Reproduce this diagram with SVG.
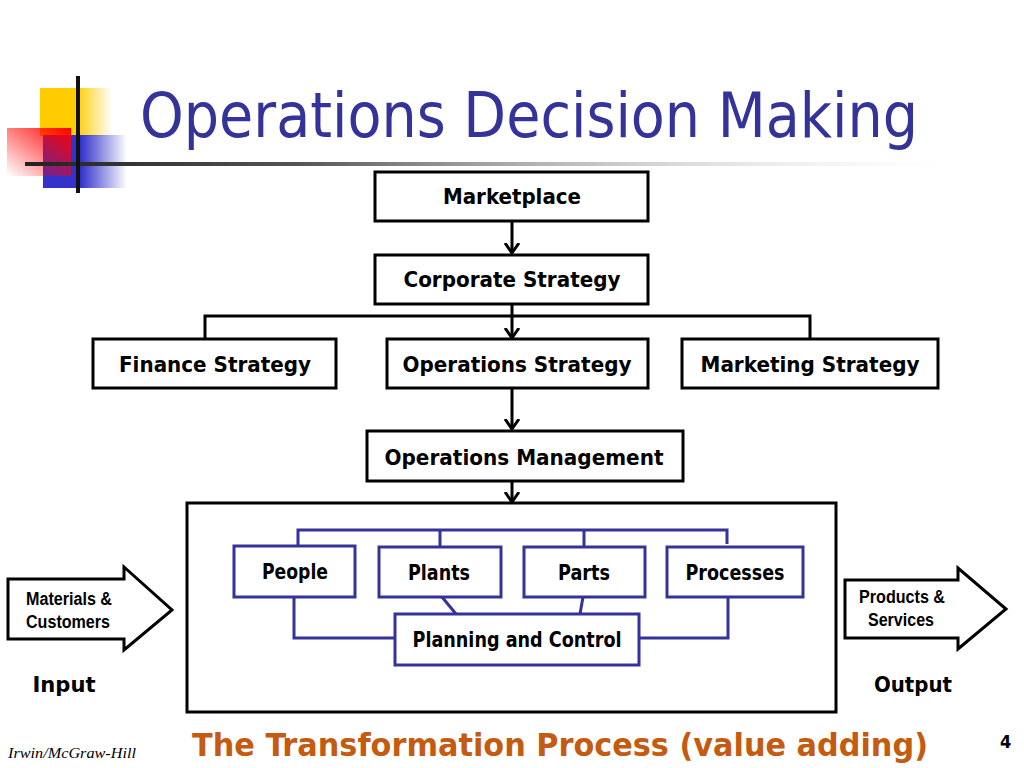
<svg xmlns="http://www.w3.org/2000/svg" width="1024" height="768" viewBox="0 0 1024 768">
<defs>
<linearGradient id="gy" x1="0" y1="0" x2="1" y2="0"><stop offset="0" stop-color="#FFCC00"/><stop offset="0.5" stop-color="#FFCC00"/><stop offset="1" stop-color="#FFCC00" stop-opacity="0"/></linearGradient>
<linearGradient id="gb" x1="0" y1="0" x2="1" y2="0"><stop offset="0" stop-color="#3333CC"/><stop offset="0.45" stop-color="#3333CC"/><stop offset="1" stop-color="#3333CC" stop-opacity="0"/></linearGradient>
<linearGradient id="gr" x1="1" y1="0" x2="0" y2="1"><stop offset="0" stop-color="#FF0000"/><stop offset="1" stop-color="#FF0000" stop-opacity="0"/></linearGradient>
<linearGradient id="gl" x1="0" y1="0" x2="1" y2="0"><stop offset="0" stop-color="#222"/><stop offset="0.3" stop-color="#555"/><stop offset="1" stop-color="#ddd" stop-opacity="0"/></linearGradient>
<marker id="ah" markerUnits="userSpaceOnUse" markerWidth="20" markerHeight="20" refX="10" refY="10" orient="auto" viewBox="0 0 20 20">
<path d="M0,3 L10,10 L0,17" fill="none" stroke="#000" stroke-width="3"/>
</marker>
<style>
.bx{fill:#fff;stroke:#000;stroke-width:3}
.bb{fill:#fff;stroke:#333399;stroke-width:3}
.lb{font-family:"DejaVu Sans Condensed","DejaVu Sans",sans-serif;font-weight:bold;font-size:21px;fill:#000;text-anchor:middle}
.ln{fill:none;stroke:#000;stroke-width:3}
.bl{fill:none;stroke:#333399;stroke-width:3}
.ar{font-family:"Liberation Sans",Arial,sans-serif;font-weight:bold;font-size:18px;fill:#000}
</style>
</defs>
<rect width="1024" height="768" fill="#fff"/>
<g id="logo">
<rect x="40" y="88" width="72" height="48" fill="url(#gy)"/>
<rect x="43" y="135" width="84" height="53" fill="url(#gb)"/>
<rect x="7" y="128" width="64" height="48" fill="url(#gr)"/>
<rect x="25" y="162" width="920" height="4" fill="url(#gl)"/>
<rect x="76" y="76" width="4" height="117" fill="#111"/>
</g>
<text x="140" y="137" font-family="DejaVu Sans,Verdana,sans-serif" font-size="63" fill="#333399" textLength="778" lengthAdjust="spacingAndGlyphs">Operations Decision Making</text>
<g id="transformation"><rect class="bx" x="187" y="503" width="649" height="209"/></g>
<g id="connectors">
<path class="ln" d="M512,221 V253" marker-end="url(#ah)"/>
<path class="ln" d="M512,304 V338" marker-end="url(#ah)"/>
<path class="ln" d="M205,339 V316 H810 V339"/>
<path class="ln" d="M512,388 V429" marker-end="url(#ah)"/>
<path class="ln" d="M512,481 V502" marker-end="url(#ah)"/>
<path class="bl" d="M298,546 V530 H727 V544"/>
<path class="bl" d="M440,530 V547"/>
<path class="bl" d="M584,530 V547"/>
<path class="bl" d="M294,597 V638 H395"/>
<path class="bl" d="M728,597 V638 H639"/>
<path class="bl" d="M442,597 L456,614"/>
<path class="bl" d="M583,597 L580,614"/>
</g>
<g id="marketplace"><rect class="bx" x="375" y="172" width="273" height="49"/><text class="lb" x="512" y="204" textLength="138" lengthAdjust="spacingAndGlyphs">Marketplace</text></g>
<g id="corporate"><rect class="bx" x="375" y="255" width="273" height="49"/><text class="lb" x="512" y="287" textLength="217" lengthAdjust="spacingAndGlyphs">Corporate Strategy</text></g>
<g id="finance"><rect class="bx" x="93" y="339" width="243" height="49"/><text class="lb" x="215" y="372" textLength="192" lengthAdjust="spacingAndGlyphs">Finance Strategy</text></g>
<g id="opstrategy"><rect class="bx" x="387" y="339" width="261" height="49"/><text class="lb" x="517" y="372" textLength="229" lengthAdjust="spacingAndGlyphs">Operations Strategy</text></g>
<g id="marketing"><rect class="bx" x="682" y="339" width="256" height="49"/><text class="lb" x="810" y="372" textLength="219" lengthAdjust="spacingAndGlyphs">Marketing Strategy</text></g>
<g id="opmgmt"><rect class="bx" x="367" y="431" width="316" height="50"/><text class="lb" x="524" y="465" textLength="279" lengthAdjust="spacingAndGlyphs">Operations Management</text></g>
<g id="people"><rect class="bb" x="234" y="546" width="121" height="51"/><text class="lb" x="295" y="579" font-size="20" textLength="66" lengthAdjust="spacingAndGlyphs">People</text></g>
<g id="plants"><rect class="bb" x="379" y="547" width="122" height="50"/><text class="lb" x="439" y="580" font-size="20" textLength="62" lengthAdjust="spacingAndGlyphs">Plants</text></g>
<g id="parts"><rect class="bb" x="524" y="547" width="121" height="50"/><text class="lb" x="584" y="580" font-size="20" textLength="52" lengthAdjust="spacingAndGlyphs">Parts</text></g>
<g id="processes"><rect class="bb" x="667" y="547" width="136" height="50"/><text class="lb" x="735" y="580" font-size="20" textLength="99" lengthAdjust="spacingAndGlyphs">Processes</text></g>
<g id="planning"><rect class="bb" x="395" y="614" width="244" height="51"/><text class="lb" x="517" y="647" font-size="20" textLength="209" lengthAdjust="spacingAndGlyphs">Planning and Control</text></g>
<g id="input">
<path d="M8,579 H124 V567 L172,610 L124,650 V639 H8 Z" fill="#fff" stroke="#000" stroke-width="3" stroke-linejoin="miter"/>
<text class="ar" x="26" y="605" textLength="86" lengthAdjust="spacingAndGlyphs">Materials &amp;</text>
<text class="ar" x="26" y="628" textLength="84" lengthAdjust="spacingAndGlyphs">Customers</text>
<text class="lb" x="64" y="692" textLength="63" lengthAdjust="spacingAndGlyphs">Input</text>
</g>
<g id="output">
<path d="M845,580 H958 V568 L1006,609 L958,649 V638 H845 Z" fill="#fff" stroke="#000" stroke-width="3" stroke-linejoin="miter"/>
<text class="ar" x="859" y="603" textLength="86" lengthAdjust="spacingAndGlyphs">Products &amp;</text>
<text class="ar" x="868" y="626" textLength="66" lengthAdjust="spacingAndGlyphs">Services</text>
<text class="lb" x="913" y="692" textLength="78" lengthAdjust="spacingAndGlyphs">Output</text>
</g>
<text x="192" y="756" font-family="DejaVu Sans Condensed,DejaVu Sans,sans-serif" font-weight="bold" font-size="32" fill="#C55A11" textLength="736" lengthAdjust="spacingAndGlyphs">The Transformation Process (value adding)</text>
<text x="8" y="758" font-family="Liberation Serif,Times New Roman,serif" font-style="italic" font-size="14" fill="#000" textLength="128" lengthAdjust="spacingAndGlyphs">Irwin/McGraw-Hill</text>
<text x="1000" y="748" font-family="DejaVu Sans Condensed,DejaVu Sans,sans-serif" font-weight="bold" font-size="18" fill="#000">4</text>
</svg>
